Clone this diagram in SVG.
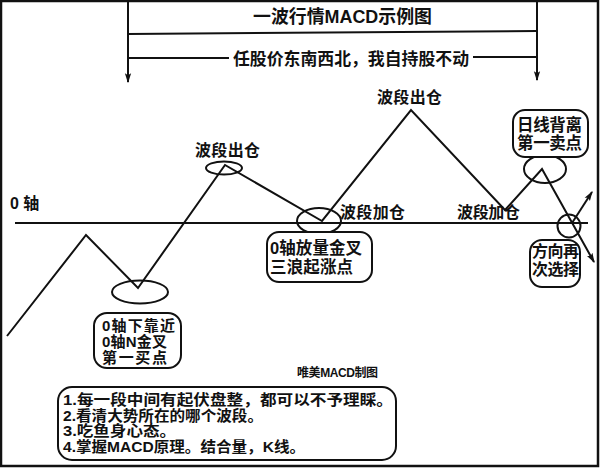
<svg xmlns="http://www.w3.org/2000/svg" width="600" height="468" viewBox="0 0 600 468">
<defs>
<style>
.t{font-family:"Liberation Sans","Noto Sans CJK SC",sans-serif;font-weight:bold;fill:#111;dominant-baseline:central}
.ln{stroke:#111;stroke-width:2;fill:none}
.box{fill:#fff;stroke:#111;stroke-width:2}
.ell{fill:none;stroke:#111;stroke-width:2}
</style>
<marker id="ah" markerWidth="10" markerHeight="16" refX="14" refY="5" viewBox="0 0 16 10" orient="auto" markerUnits="userSpaceOnUse">
<path d="M0,0 L16,5 L0,10 L3,5 Z" fill="#111"/>
</marker>
</defs>
<rect x="0" y="0" width="600" height="468" fill="#fff"/>
<rect x="1" y="1" width="597" height="465" fill="none" stroke="#111" stroke-width="2.5"/>

<g id="connectors">
<line class="ln" x1="128" y1="2" x2="128" y2="82" marker-end="url(#ah)"/>
<line class="ln" x1="537" y1="2" x2="537" y2="80" marker-end="url(#ah)"/>
<line class="ln" x1="128" y1="34" x2="537" y2="31"/>
<line class="ln" x1="128" y1="58" x2="229" y2="58"/>
<line class="ln" x1="473" y1="57" x2="537" y2="57"/>
<line class="ln" x1="15" y1="223" x2="588" y2="223"/>
<polyline class="ln" points="7,336 86,235 138,288 225,165 322,221 411,110 505,210 542,169 594,262" marker-end="url(#ah)"/>
<line class="ln" x1="572" y1="223" x2="592" y2="192" marker-end="url(#ah)"/>
</g>

<g id="title"><text class="t" x="253" y="17" font-size="18" textLength="179" lengthAdjust="spacingAndGlyphs">一波行情MACD示例图</text></g>
<g id="banner"><text class="t" x="233" y="59" font-size="16.5" textLength="236" lengthAdjust="spacingAndGlyphs">任股价东南西北，我自持股不动</text></g>
<g id="axis-label"><text class="t" x="10" y="203" font-size="16">0 轴</text></g>

<g id="exit1"><ellipse class="ell" cx="224" cy="168" rx="18" ry="6.5"/><text class="t" x="195" y="150" font-size="16" textLength="65">波段出仓</text></g>
<g id="exit2"><text class="t" x="377" y="97" font-size="16" textLength="65">波段出仓</text></g>
<g id="add1"><text class="t" x="340" y="212" font-size="16" textLength="65">波段加仓</text></g>
<g id="add2"><text class="t" x="457" y="212" font-size="16" textLength="63">波段加仓</text></g>

<g id="buy1">
<ellipse class="ell" cx="140" cy="292" rx="28" ry="11.5"/>
<rect class="box" x="94" y="313" width="87" height="55" rx="13"/>
<text class="t" x="102" y="325" font-size="15" textLength="73">0轴下靠近</text>
<text class="t" x="102" y="341" font-size="15" textLength="65">0轴N金叉</text>
<text class="t" x="102" y="357" font-size="15" textLength="65">第一买点</text>
</g>

<g id="cross">
<ellipse class="ell" cx="319" cy="221" rx="22" ry="13"/>
<rect class="box" x="267" y="232" width="105" height="50" rx="12"/>
<text class="t" x="270" y="248" font-size="16.5" textLength="92">0轴放量金叉</text>
<text class="t" x="270" y="267" font-size="16.5" textLength="83">三浪起涨点</text>
</g>

<g id="sell1">
<ellipse class="ell" cx="545" cy="169" rx="21" ry="14"/>
<rect class="box" x="513" y="110" width="75" height="47" rx="12"/>
<text class="t" x="517" y="125" font-size="16.5" textLength="65">日线背离</text>
<text class="t" x="517" y="143" font-size="16.5" textLength="65">第一卖点</text>
</g>

<g id="choice">
<circle class="ell" cx="569" cy="226" r="11.5"/>
<rect class="box" x="530" y="240" width="50" height="47" rx="12"/>
<text class="t" x="532" y="251" font-size="16" textLength="47">方向再</text>
<text class="t" x="532" y="269" font-size="16" textLength="47">次选择</text>
</g>

<g id="credit"><text class="t" x="297" y="373" font-size="12" textLength="81">唯美MACD制图</text></g>

<g id="notes">
<rect class="box" x="58" y="387" width="338" height="73" rx="14"/>
<text class="t" x="63" y="400" font-size="14.5" textLength="330" lengthAdjust="spacingAndGlyphs">1.每一段中间有起伏盘整，都可以不予理睬。</text>
<text class="t" x="63" y="415.5" font-size="14.5" textLength="200" lengthAdjust="spacingAndGlyphs">2.看清大势所在的哪个波段。</text>
<text class="t" x="63" y="431" font-size="14.5" textLength="113" lengthAdjust="spacingAndGlyphs">3.吃鱼身心态。</text>
<text class="t" x="63" y="446.5" font-size="14.5" textLength="242" lengthAdjust="spacingAndGlyphs">4.掌握MACD原理。结合量，K线。</text>
</g>
</svg>
